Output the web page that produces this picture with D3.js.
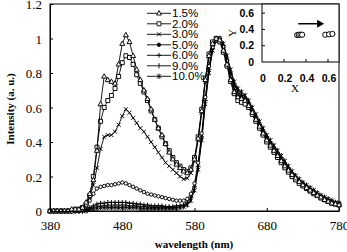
<!DOCTYPE html>
<html>
<head>
<meta charset="utf-8">
<script src="https://cdn.jsdelivr.net/npm/d3@7/dist/d3.min.js"></script>
<style>
  body { margin: 0; background: #fff; }
  svg { display: block; }
</style>
</head>
<body>
<div id="chart"></div>
<script>
// emission spectra, normalised, sampled every 5 nm
const wavelengths = [380,385,390,395,400,405,410,415,420,425,430,435,440,445,450,455,460,465,470,475,
  480,485,490,495,500,505,510,515,520,525,530,535,540,545,550,555,560,565,570,575,
  580,585,590,595,600,605,610,615,620,625,630,635,640,645,650,655,660,665,670,675,
  680,685,690,695,700,705,710,715,720,725,730,735,740,745,750,755,760,765,770,775,780];

const seriesNames = ["1.5%", "2.0%", "3.0%", "5.0%", "6.0%", "9.0%", "10.0%"];
const seriesMarkers = ["tri", "sq", "x", "dot", "plus", "bar", "star"];

const s15 = [0,0,0,0,0,0,0.01,0.01,
  0.01,0.02,0.05,0.10,0.18,0.35,0.62,0.78,0.76,0.75,0.74,0.85,
  0.97,1.02,0.98,0.90,0.82,0.76,0.70,0.65,0.59,0.53,0.48,0.44,
  0.39,0.34,0.30,0.27,0.25,0.23,0.22,0.24,0.30,0.42,0.58,0.76,
  0.90,0.97,1.00,0.99,0.93,0.85,0.76,0.69,0.66,0.65,0.64,0.61,
  0.57,0.53,0.49,0.45,0.41,0.38,0.35,0.32,0.29,0.26,0.235,0.21,
  0.19,0.17,0.15,0.135,0.12,0.105,0.09,0.08,0.065,0.055,0.045,0.04,0.035];
const s20 = [0,0,0,0,0,0,0,0.01,
  0.01,0.02,0.04,0.09,0.20,0.37,0.52,0.60,0.64,0.67,0.71,0.78,
  0.86,0.90,0.89,0.85,0.79,0.74,0.69,0.64,0.58,0.53,0.48,0.43,
  0.39,0.35,0.31,0.28,0.26,0.24,0.23,0.25,0.31,0.43,0.59,0.77,
  0.91,0.98,1.00,0.98,0.92,0.84,0.75,0.68,0.64,0.63,0.62,0.60,
  0.56,0.52,0.48,0.44,0.40,0.37,0.34,0.31,0.28,0.25,0.225,0.20,
  0.18,0.16,0.145,0.13,0.115,0.10,0.09,0.075,0.065,0.055,0.045,0.04,0.035];
const s30 = [0,0,0,0,0,0,0,0,
  0.01,0.02,0.04,0.08,0.15,0.25,0.36,0.43,0.44,0.44,0.46,0.50,
  0.55,0.59,0.57,0.54,0.51,0.48,0.46,0.43,0.40,0.37,0.34,0.31,
  0.28,0.26,0.24,0.22,0.20,0.185,0.19,0.22,0.29,0.41,0.57,0.75,
  0.89,0.97,1.00,0.99,0.94,0.86,0.78,0.71,0.67,0.66,0.64,0.61,
  0.57,0.53,0.49,0.45,0.42,0.39,0.36,0.33,0.30,0.27,0.24,0.215,
  0.19,0.17,0.155,0.14,0.125,0.11,0.095,0.08,0.07,0.06,0.05,0.045,0.04];
const s50 = [0,0,0,0,0,0,0,0,
  0,0.01,0.03,0.06,0.10,0.13,0.14,0.145,0.15,0.15,0.155,0.16,
  0.165,0.16,0.15,0.14,0.13,0.12,0.11,0.10,0.095,0.09,0.085,0.08,
  0.075,0.07,0.065,0.06,0.06,0.06,0.07,0.10,0.16,0.28,0.45,0.66,
  0.84,0.95,0.99,1.00,0.95,0.87,0.78,0.71,0.67,0.65,0.63,0.60,
  0.56,0.52,0.48,0.45,0.41,0.38,0.35,0.32,0.29,0.26,0.24,0.215,
  0.19,0.17,0.15,0.135,0.12,0.105,0.095,0.08,0.07,0.06,0.05,0.045,0.04];
const s60 = [0,0,0,0,0,0,0,0,
  0,0,0.01,0.02,0.03,0.04,0.045,0.045,0.05,0.05,0.05,0.05,
  0.05,0.05,0.045,0.045,0.04,0.04,0.035,0.035,0.03,0.03,0.03,0.03,
  0.025,0.025,0.025,0.03,0.03,0.035,0.05,0.08,0.14,0.26,0.43,0.64,
  0.82,0.94,0.99,1.00,0.96,0.88,0.80,0.73,0.69,0.67,0.65,0.62,
  0.58,0.54,0.50,0.46,0.43,0.39,0.36,0.33,0.30,0.27,0.245,0.22,
  0.195,0.175,0.155,0.14,0.125,0.11,0.095,0.085,0.07,0.06,0.05,0.045,0.04];
const s90 = [0,0,0,0,0,0,0,0,
  0,0,0.01,0.01,0.02,0.025,0.03,0.03,0.035,0.035,0.035,0.035,
  0.035,0.035,0.03,0.03,0.03,0.025,0.025,0.025,0.02,0.02,0.02,0.02,
  0.02,0.02,0.02,0.02,0.025,0.03,0.04,0.07,0.13,0.25,0.42,0.63,
  0.81,0.93,0.99,1.00,0.96,0.89,0.81,0.74,0.70,0.68,0.66,0.63,
  0.59,0.55,0.51,0.47,0.43,0.40,0.37,0.34,0.31,0.28,0.25,0.225,
  0.20,0.18,0.16,0.145,0.13,0.115,0.10,0.085,0.075,0.065,0.055,0.045,0.04];
const s100 = [0,0,0,0,0,0,0,0,
  0,0,0,0.01,0.01,0.015,0.02,0.02,0.02,0.02,0.02,0.02,
  0.02,0.02,0.02,0.02,0.02,0.015,0.015,0.015,0.015,0.015,0.015,0.015,
  0.015,0.015,0.015,0.015,0.02,0.025,0.035,0.06,0.12,0.24,0.41,0.62,
  0.80,0.93,0.99,1.00,0.97,0.90,0.82,0.75,0.71,0.69,0.67,0.64,
  0.60,0.56,0.52,0.48,0.44,0.41,0.38,0.35,0.32,0.29,0.26,0.23,
  0.205,0.185,0.165,0.15,0.135,0.12,0.105,0.09,0.08,0.07,0.06,0.05,0.045];
const seriesValues = [s15, s20, s30, s50, s60, s90, s100];

const xTicks = [380, 480, 580, 680, 780];
const yTicks = [0, 0.2, 0.4, 0.6, 0.8, 1, 1.2];

// inset: chromaticity coordinates
const cieX = [0.32, 0.335, 0.35, 0.365, 0.575, 0.61, 0.64];
const cieY = [0.33, 0.335, 0.335, 0.335, 0.335, 0.34, 0.345];
const arrowFrom = [0.33, 0.47];
const arrowTo = [0.565, 0.47];
const insetTicks = [0, 0.2, 0.4, 0.6];

const W = 347, H = 252;
const svg = d3.select("#chart").append("svg")
  .attr("width", W).attr("height", H)
  .style("background", "#fff");

const x = d3.scaleLinear().domain([380, 780]).range([50, 339]);
const y = d3.scaleLinear().domain([0, 1.2]).range([211, 4]);

const serif = "'Liberation Serif','Times New Roman',serif";
const sans = "'Liberation Sans',Arial,sans-serif";

// marker shapes
function markerPath(type) {
  switch (type) {
    case "tri": return "M0,-2.7L2.5,1.7L-2.5,1.7Z";
    case "sq": return "M-2,-2H2V2H-2Z";
    case "x": return "M-2,-2L2,2M-2,2L2,-2";
    case "dot": return "M-1.7,0A1.7,1.7 0 1,0 1.7,0A1.7,1.7 0 1,0 -1.7,0Z";
    case "plus": return "M-2.4,0H2.4M0,-2.4V2.4";
    case "bar": return "M0,-2.6V2.6";
    case "star": return "M-2,-2L2,2M-2,2L2,-2M0,-2.7V2.7";
  }
}
function markerFill(type, inLegend) {
  if (type === "tri" || type === "sq") return "#fff";
  if (type === "dot") return inLegend ? "#000" : "#fff";
  return "none";
}

// frame
svg.append("rect")
  .attr("x", 50).attr("y", 4).attr("width", 289).attr("height", 207)
  .attr("fill", "none").attr("stroke", "#000").attr("stroke-width", 1);

// curves, highest concentration first so 1.5% lies on top
const line = d3.line().x((d, i) => x(wavelengths[i])).y(d => y(d));
for (let k = seriesValues.length - 1; k >= 0; k--) {
  const vals = seriesValues[k];
  const g = svg.append("g");
  g.append("path").datum(vals)
    .attr("d", line)
    .attr("fill", "none").attr("stroke", "#000").attr("stroke-width", 0.9);
  g.selectAll("path.m").data(vals).enter().append("path")
    .attr("class", "m")
    .attr("transform", (d, i) => "translate(" + x(wavelengths[i]) + "," + y(d) + ")")
    .attr("d", markerPath(seriesMarkers[k]))
    .attr("fill", markerFill(seriesMarkers[k], false))
    .attr("stroke", "#000").attr("stroke-width", 0.95);
}

// axes
const xAxis = d3.axisBottom(x).tickValues(xTicks).tickSizeInner(-3).tickSizeOuter(0).tickPadding(10);
const gx = svg.append("g").attr("transform", "translate(0,211)").call(xAxis);
const yAxis = d3.axisLeft(y).tickValues(yTicks).tickSizeInner(-3).tickSizeOuter(0).tickPadding(8)
  .tickFormat(d => d === 0 ? "0" : d3.format("~g")(d));
const gy = svg.append("g").attr("transform", "translate(50,0)").call(yAxis);
[gx, gy].forEach(g => {
  g.select(".domain").attr("stroke", "#000");
  g.selectAll(".tick line").attr("stroke", "#000");
  g.selectAll(".tick text").attr("fill", "#000")
    .style("font-family", serif).style("font-size", "13px");
});
gy.selectAll(".tick text").attr("dy", "0.35em");

// axis titles
svg.append("text")
  .attr("x", 194).attr("y", 248)
  .attr("text-anchor", "middle")
  .style("font-family", serif).style("font-size", "11px").style("font-weight", "bold")
  .text("wavelength (nm)");
svg.append("text")
  .attr("transform", "translate(14,109) rotate(-90)")
  .attr("text-anchor", "middle")
  .style("font-family", serif).style("font-size", "11px").style("font-weight", "bold")
  .text("Intensity (a. u.)");

// legend
const legend = svg.append("g");
seriesNames.forEach((name, k) => {
  const ly = 13.3 + k * 10.5;
  legend.append("line")
    .attr("x1", 147).attr("x2", 171).attr("y1", ly).attr("y2", ly)
    .attr("stroke", "#000").attr("stroke-width", 0.9);
  legend.append("path")
    .attr("transform", "translate(159," + ly + ")")
    .attr("d", markerPath(seriesMarkers[k]))
    .attr("fill", markerFill(seriesMarkers[k], true))
    .attr("stroke", "#000").attr("stroke-width", 0.9);
  legend.append("text")
    .attr("x", 172).attr("y", ly).attr("dy", "0.36em")
    .style("font-family", sans).style("font-size", "11.5px")
    .text(name);
});

// inset
const ix = d3.scaleLinear().domain([0, 0.7]).range([262, 339]);
const iy = d3.scaleLinear().domain([0, 0.7]).range([62, 5]);
const inset = svg.append("g");
inset.append("rect")
  .attr("x", 262).attr("y", 4).attr("width", 77).attr("height", 58)
  .attr("fill", "#fff").attr("stroke", "#000").attr("stroke-width", 1);
insetTicks.filter(t => t > 0).forEach(t => {
  inset.append("line").attr("x1", ix(t)).attr("x2", ix(t)).attr("y1", 62).attr("y2", 59)
    .attr("stroke", "#000");
  inset.append("line").attr("x1", 262).attr("x2", 265).attr("y1", iy(t)).attr("y2", iy(t))
    .attr("stroke", "#000");
});
insetTicks.forEach(t => {
  inset.append("text")
    .attr("x", ix(t) + 1).attr("y", 82).attr("text-anchor", "middle")
    .style("font-family", sans).style("font-size", "10.5px").style("font-weight", "bold")
    .text(t === 0 ? "0" : t.toFixed(1));
  inset.append("text")
    .attr("x", 254).attr("y", iy(t)).attr("dy", "0.35em").attr("text-anchor", "end")
    .style("font-family", sans).style("font-size", "10.5px").style("font-weight", "bold")
    .text(t === 0 ? "0" : t.toFixed(1));
});
inset.append("text")
  .attr("x", 295).attr("y", 92).attr("text-anchor", "middle")
  .style("font-family", serif).style("font-size", "11px")
  .text("X");
inset.append("text")
  .attr("transform", "translate(236,33) rotate(-90)")
  .attr("text-anchor", "middle")
  .style("font-family", serif).style("font-size", "11px")
  .text("Y");
inset.selectAll("circle.pt").data(cieX).enter().append("circle")
  .attr("class", "pt")
  .attr("cx", d => ix(d)).attr("cy", (d, i) => iy(cieY[i]))
  .attr("r", 2.6)
  .attr("fill", "#fff").attr("stroke", "#000").attr("stroke-width", 1);
inset.append("line")
  .attr("x1", ix(arrowFrom[0])).attr("y1", iy(arrowFrom[1]))
  .attr("x2", ix(arrowTo[0]) - 6).attr("y2", iy(arrowTo[1]))
  .attr("stroke", "#000").attr("stroke-width", 1.5);
inset.append("path")
  .attr("transform", "translate(" + ix(arrowTo[0]) + "," + iy(arrowTo[1]) + ")")
  .attr("d", "M0,0L-7,-4L-7,4Z")
  .attr("fill", "#000");
</script>
</body>
</html>
